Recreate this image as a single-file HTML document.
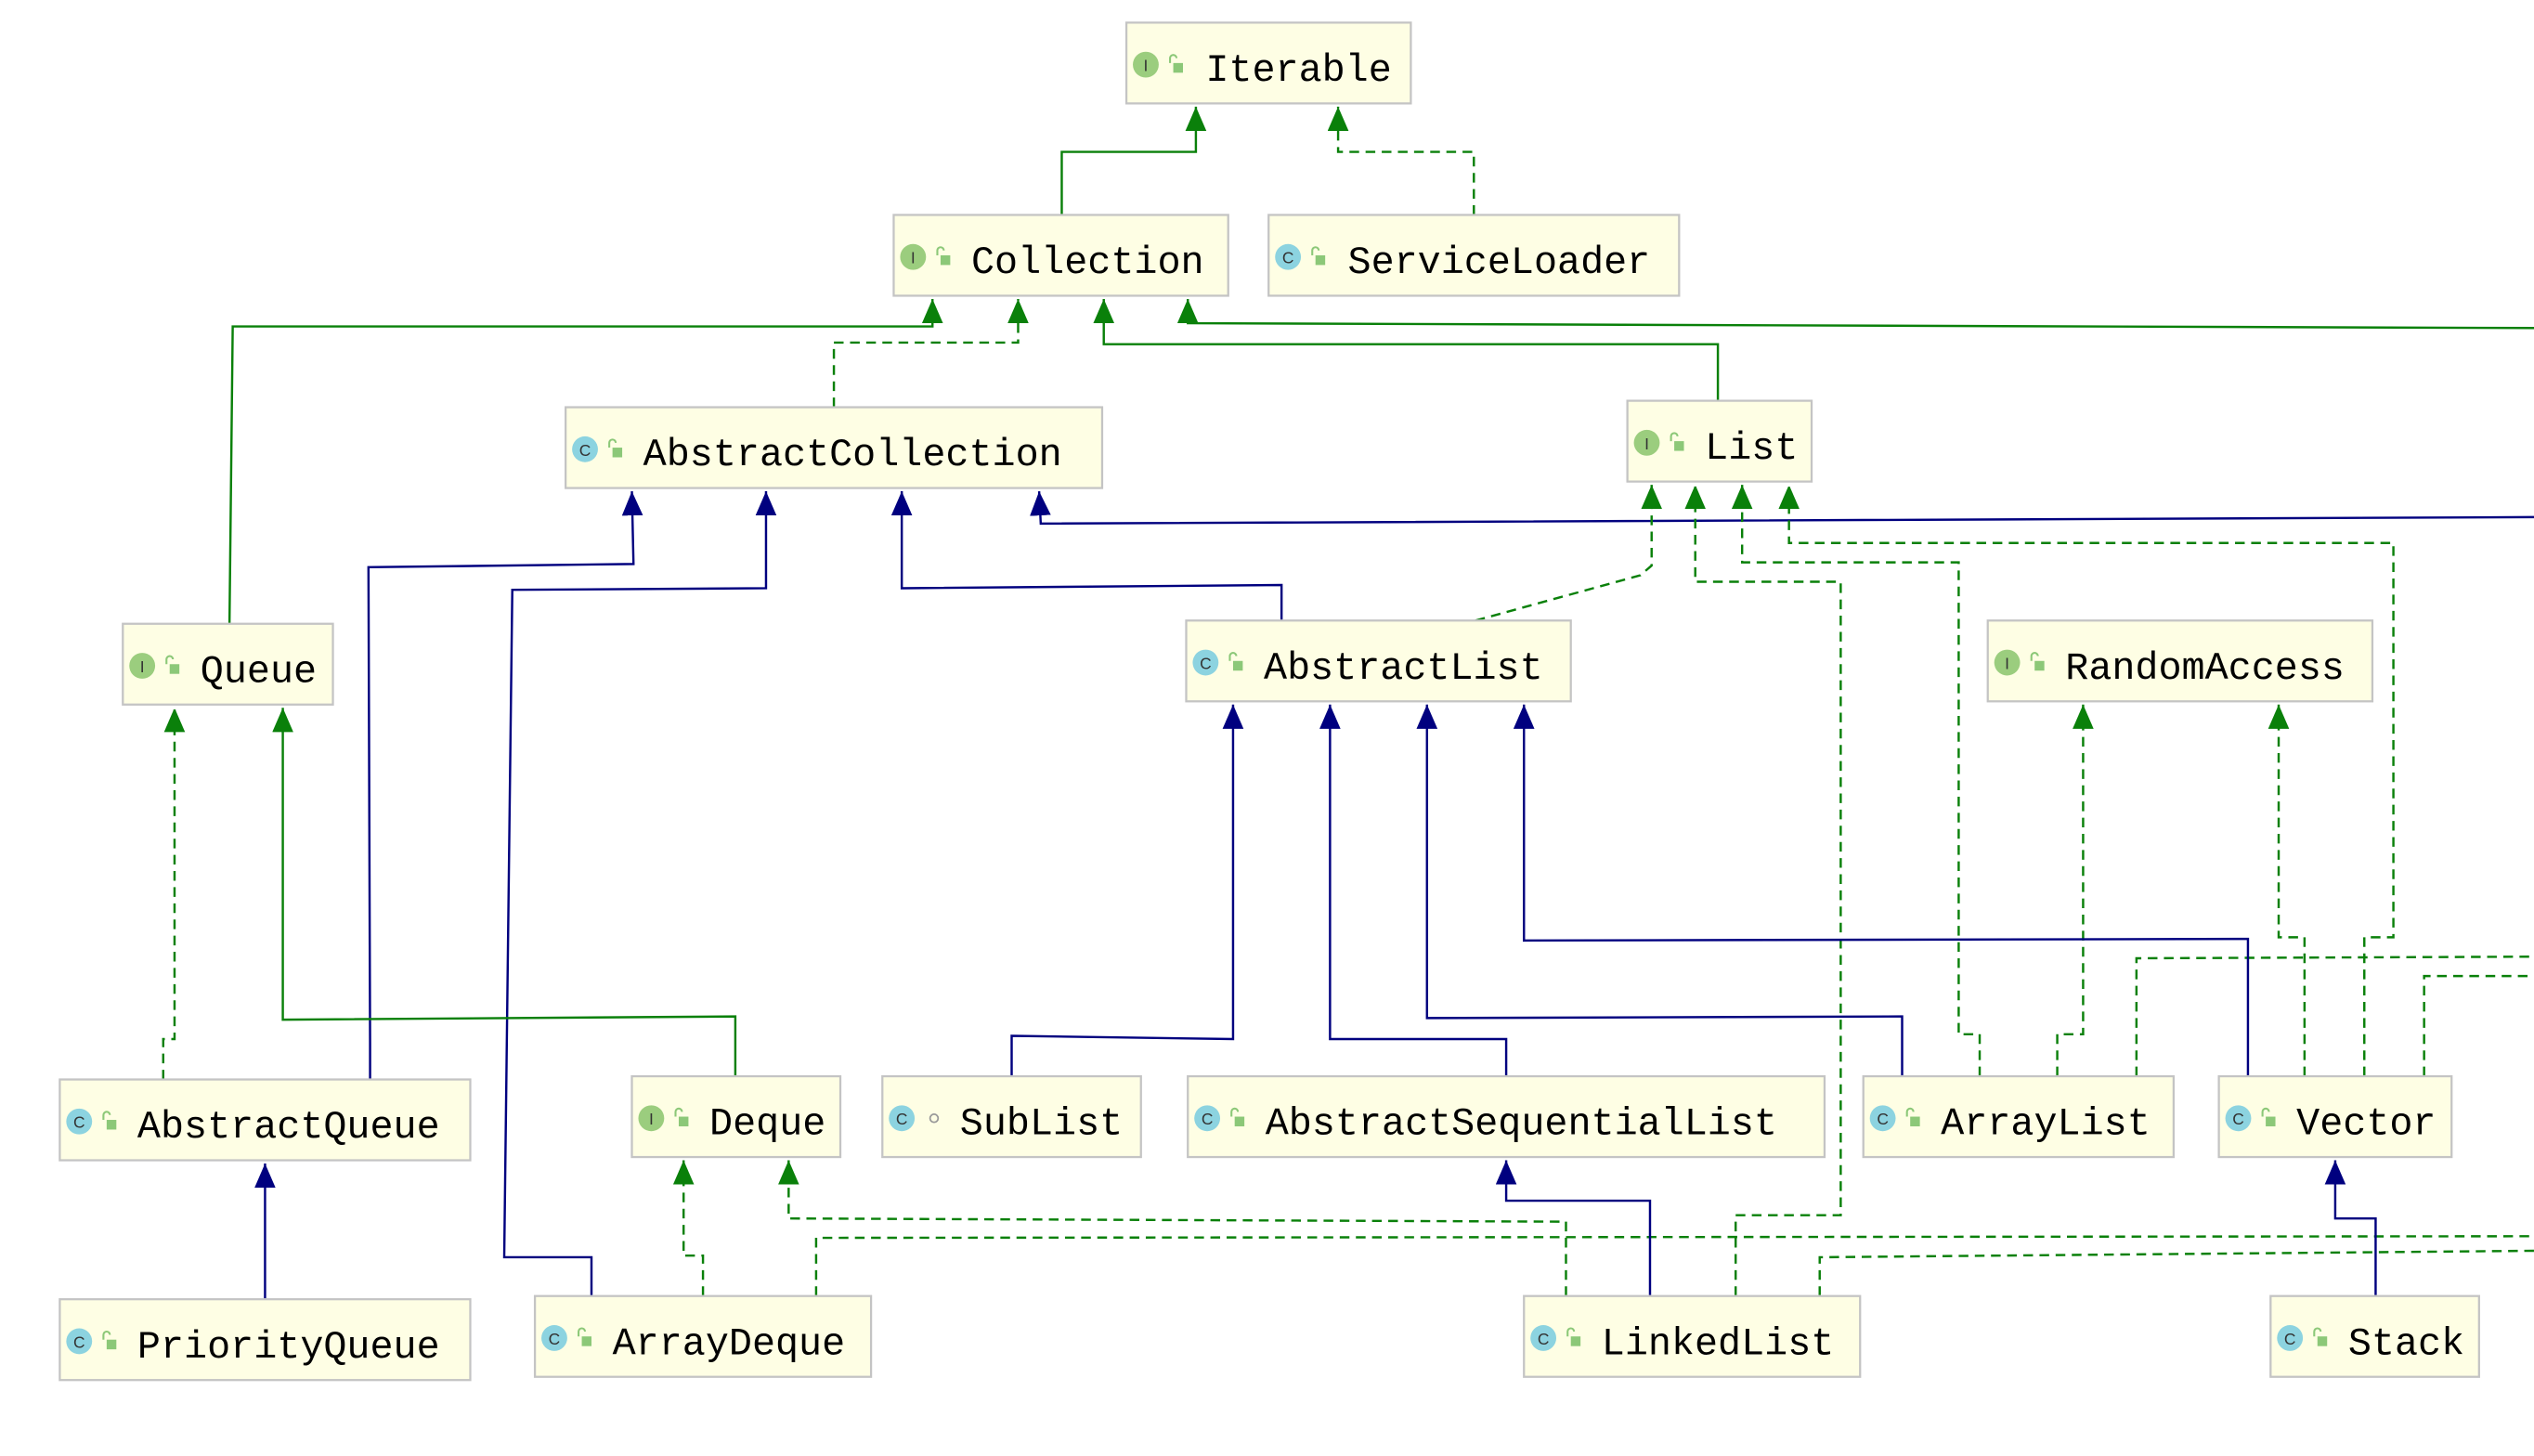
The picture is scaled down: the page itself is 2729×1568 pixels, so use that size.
<!DOCTYPE html>
<html><head><meta charset="utf-8"><style>
html,body{margin:0;padding:0;background:#fff;}
svg{display:block}
text{font-family:"Liberation Mono","DejaVu Sans Mono",monospace;font-size:24px;fill:#000}
.b{fill:#fefee4;stroke:#c4c4c4;stroke-width:1.3}
.g{fill:none;stroke:#0a800a;stroke-width:1.4}
.gd{fill:none;stroke:#0a800a;stroke-width:1.4;stroke-dasharray:6,4}
.n{fill:none;stroke:#00007f;stroke-width:1.4}
.ic{font-family:"Liberation Sans",sans-serif;font-size:10px;fill:#333;text-anchor:middle}
</style></head><body>
<svg width="2729" height="1568" viewBox="0 0 1568 901" preserveAspectRatio="none" xmlns="http://www.w3.org/2000/svg">
<defs>
<marker id="ag" markerUnits="userSpaceOnUse" markerWidth="14" markerHeight="16" refX="15" refY="6.5" orient="auto"><path d="M0,0 L15,6.5 L0,13 z" fill="#0a800a"/></marker>
<marker id="ab" markerUnits="userSpaceOnUse" markerWidth="14" markerHeight="16" refX="15" refY="6.5" orient="auto"><path d="M0,0 L15,6.5 L0,13 z" fill="#00007f"/></marker>
<g id="lock"><rect x="-1" y="-1" width="6" height="6" fill="#8cc878"/><path d="M-3,-1 v-3 a2,2 0 0 1 4,0" fill="none" stroke="#8cc878" stroke-width="1.2"/></g>
</defs>

<!-- edges -->
<path class="g" d="M657,133 V94 H740 V66" marker-end="url(#ag)"/>
<path class="gd" d="M912,133 V94 H828 V66" marker-end="url(#ag)"/>
<path class="g" d="M142,386 L144,202 H577 V185" marker-end="url(#ag)"/>
<path class="gd" d="M516,252 V212 H630 V185" marker-end="url(#ag)"/>
<path class="g" d="M1063,248 V213 H683 V185" marker-end="url(#ag)"/>
<path class="g" d="M1568,203 L735,200 V185" marker-end="url(#ag)"/>

<path class="n" d="M793,384 V362 L558,364 V304" marker-end="url(#ab)"/>
<path class="n" d="M229,668 V645 L228,351 L392,349 L391,304" marker-end="url(#ab)"/>
<path class="n" d="M366,802 V778 H312 L317,365 L474,364 V304" marker-end="url(#ab)"/>
<path class="n" d="M1568,320 L644,324 L643,304" marker-end="url(#ab)"/>

<path class="gd" d="M913,384 L1015,356 L1022,350 V300" marker-end="url(#ag)"/>
<path class="gd" d="M1074,802 V752 H1139 V360 H1049 V300" marker-end="url(#ag)"/>
<path class="gd" d="M1225,666 V640 H1212 V348 H1078 V300" marker-end="url(#ag)"/>
<path class="gd" d="M1463,666 V580 H1481 V336 H1107 V300" marker-end="url(#ag)"/>
<path class="gd" d="M1273,666 V640 H1289 V436" marker-end="url(#ag)"/>
<path class="gd" d="M1426,666 V580 H1410 V436" marker-end="url(#ag)"/>
<path class="gd" d="M1322,666 V593 L1568,592"/>
<path class="gd" d="M1500,666 V604 H1568"/>

<path class="g" d="M455,666 V629 L175,631 V438" marker-end="url(#ag)"/>
<path class="gd" d="M101,668 V643 H108 V438" marker-end="url(#ag)"/>

<path class="n" d="M626,666 V641 L763,643 V436" marker-end="url(#ab)"/>
<path class="n" d="M932,666 V643 H823 V436" marker-end="url(#ab)"/>
<path class="n" d="M1177,666 V629 L883,630 V436" marker-end="url(#ab)"/>
<path class="n" d="M1391,666 V581 L943,582 V436" marker-end="url(#ab)"/>

<path class="n" d="M164,804 V720" marker-end="url(#ab)"/>
<path class="gd" d="M435,802 V777 H423 V718" marker-end="url(#ag)"/>
<path class="gd" d="M969,802 V756 L488,754 V718" marker-end="url(#ag)"/>
<path class="gd" d="M505,802 V766 L1568,765"/>
<path class="gd" d="M1126,802 V778 L1568,774"/>
<path class="n" d="M1021,802 V743 H932 V718" marker-end="url(#ab)"/>
<path class="n" d="M1470,802 V754 H1445 V718" marker-end="url(#ab)"/>

<!-- boxes -->
<g>
<rect class="b" x="697" y="14" width="176" height="50"/>
<circle cx="709" cy="40" r="8" fill="#9bcd7e"/><text class="ic" x="709" y="44">I</text><use href="#lock" x="727" y="40"/>
<text x="746" y="50">Iterable</text>
</g>
<g>
<rect class="b" x="553" y="133" width="207" height="50"/>
<circle cx="565" cy="159" r="8" fill="#9bcd7e"/><text class="ic" x="565" y="163">I</text><use href="#lock" x="583" y="159"/>
<text x="601" y="169">Collection</text>
</g>
<g>
<rect class="b" x="785" y="133" width="254" height="50"/>
<circle cx="797" cy="159" r="8" fill="#8cd3e0"/><text class="ic" x="797" y="163">C</text><use href="#lock" x="815" y="159"/>
<text x="834" y="169">ServiceLoader</text>
</g>
<g>
<rect class="b" x="350" y="252" width="332" height="50"/>
<circle cx="362" cy="278" r="8" fill="#8cd3e0"/><text class="ic" x="362" y="282">C</text><use href="#lock" x="380" y="278"/>
<text x="398" y="288">AbstractCollection</text>
</g>
<g>
<rect class="b" x="1007" y="248" width="114" height="50"/>
<circle cx="1019" cy="274" r="8" fill="#9bcd7e"/><text class="ic" x="1019" y="278">I</text><use href="#lock" x="1037" y="274"/>
<text x="1055" y="284">List</text>
</g>
<g>
<rect class="b" x="76" y="386" width="130" height="50"/>
<circle cx="88" cy="412" r="8" fill="#9bcd7e"/><text class="ic" x="88" y="416">I</text><use href="#lock" x="106" y="412"/>
<text x="124" y="422">Queue</text>
</g>
<g>
<rect class="b" x="734" y="384" width="238" height="50"/>
<circle cx="746" cy="410" r="8" fill="#8cd3e0"/><text class="ic" x="746" y="414">C</text><use href="#lock" x="764" y="410"/>
<text x="782" y="420">AbstractList</text>
</g>
<g>
<rect class="b" x="1230" y="384" width="238" height="50"/>
<circle cx="1242" cy="410" r="8" fill="#9bcd7e"/><text class="ic" x="1242" y="414">I</text><use href="#lock" x="1260" y="410"/>
<text x="1278" y="420">RandomAccess</text>
</g>
<g>
<rect class="b" x="37" y="668" width="254" height="50"/>
<circle cx="49" cy="694" r="8" fill="#8cd3e0"/><text class="ic" x="49" y="698">C</text><use href="#lock" x="67" y="694"/>
<text x="85" y="704">AbstractQueue</text>
</g>
<g>
<rect class="b" x="391" y="666" width="129" height="50"/>
<circle cx="403" cy="692" r="8" fill="#9bcd7e"/><text class="ic" x="403" y="696">I</text><use href="#lock" x="421" y="692"/>
<text x="439" y="702">Deque</text>
</g>
<g>
<rect class="b" x="546" y="666" width="160" height="50"/>
<circle cx="558" cy="692" r="8" fill="#8cd3e0"/><text class="ic" x="558" y="696">C</text><circle cx="578" cy="692" r="2.5" fill="none" stroke="#999" stroke-width="1"/>
<text x="594" y="702">SubList</text>
</g>
<g>
<rect class="b" x="735" y="666" width="394" height="50"/>
<circle cx="747" cy="692" r="8" fill="#8cd3e0"/><text class="ic" x="747" y="696">C</text><use href="#lock" x="765" y="692"/>
<text x="783" y="702">AbstractSequentialList</text>
</g>
<g>
<rect class="b" x="1153" y="666" width="192" height="50"/>
<circle cx="1165" cy="692" r="8" fill="#8cd3e0"/><text class="ic" x="1165" y="696">C</text><use href="#lock" x="1183" y="692"/>
<text x="1201" y="702">ArrayList</text>
</g>
<g>
<rect class="b" x="1373" y="666" width="144" height="50"/>
<circle cx="1385" cy="692" r="8" fill="#8cd3e0"/><text class="ic" x="1385" y="696">C</text><use href="#lock" x="1403" y="692"/>
<text x="1421" y="702">Vector</text>
</g>
<g>
<rect class="b" x="37" y="804" width="254" height="50"/>
<circle cx="49" cy="830" r="8" fill="#8cd3e0"/><text class="ic" x="49" y="834">C</text><use href="#lock" x="67" y="830"/>
<text x="85" y="840">PriorityQueue</text>
</g>
<g>
<rect class="b" x="331" y="802" width="208" height="50"/>
<circle cx="343" cy="828" r="8" fill="#8cd3e0"/><text class="ic" x="343" y="832">C</text><use href="#lock" x="361" y="828"/>
<text x="379" y="838">ArrayDeque</text>
</g>
<g>
<rect class="b" x="943" y="802" width="208" height="50"/>
<circle cx="955" cy="828" r="8" fill="#8cd3e0"/><text class="ic" x="955" y="832">C</text><use href="#lock" x="973" y="828"/>
<text x="991" y="838">LinkedList</text>
</g>
<g>
<rect class="b" x="1405" y="802" width="129" height="50"/>
<circle cx="1417" cy="828" r="8" fill="#8cd3e0"/><text class="ic" x="1417" y="832">C</text><use href="#lock" x="1435" y="828"/>
<text x="1453" y="838">Stack</text>
</g>
</svg>
</body></html>
